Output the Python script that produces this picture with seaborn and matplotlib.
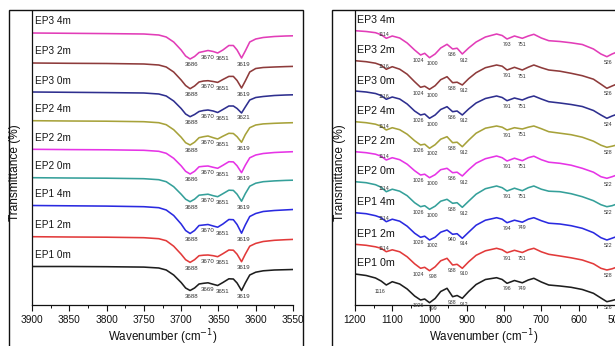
import numpy as np
import pandas as pd
import matplotlib
matplotlib.use("Agg")
import matplotlib.pyplot as plt
from matplotlib.patches import Rectangle
from matplotlib.ticker import MultipleLocator
import seaborn as sns

# ---------------- data ----------------
samples = ["EP3 4m", "EP3 2m", "EP3 0m", "EP2 4m", "EP2 2m",
           "EP2 0m", "EP1 4m", "EP1 2m", "EP1 0m"]
colors = ["#E23DB8", "#8E3B3B", "#2E2F8F", "#A7A23A", "#E634E6",
          "#35A09A", "#2A2AE0", "#E23A3A", "#1E1E1E"]

# OH-stretching region (left panel)
oh_wn = [3900, 3850, 3800, 3750, 3730, 3720, 3710, 3700, 3694, 3688, 3682, 3676,
         3670, 3664, 3657, 3651, 3644, 3636, 3630, 3625, 3619, 3614, 3608, 3600,
         3590, 3575, 3560, 3550]
oh_ep3_4m = [0, -0.3, -0.6, -1, -2, -4, -9, -17, -23, -26, -23.5, -19.5, -18.5, -17.5,
             -18.5, -20, -17, -12.5, -12.5, -17, -25, -18, -9, -6, -4.5, -3.5, -3, -2.8]
oh_ep3_2m = [0, -0.3, -0.5, -1, -2, -4, -9, -17, -22.5, -25.7, -23, -19, -18, -17.7,
             -18.5, -19.4, -16.5, -13.4, -13.4, -17.5, -25, -18, -9, -5.5, -4.5, -4, -3.6, -3.4]
oh_ep3_0m = [0, -0.3, -0.6, -1, -2, -4, -9, -16.5, -22, -24.7, -22.5, -19.5, -18.5, -18,
             -19, -20.5, -17.5, -14, -14, -16.5, -21, -15, -8, -5.5, -4.5, -3.5, -3, -2.8]
oh_ep2_4m = [0, -0.3, -0.5, -1, -2, -4, -9, -16.5, -22, -24.3, -21.5, -17, -16, -15.3,
             -17, -18.3, -15.5, -12.6, -12.8, -16, -21.6, -14, -7, -4.3, -3.2, -2.6, -2.2, -2]
oh_ep2_2m = [0, -0.3, -0.5, -1, -2, -4, -9, -16.5, -22, -24.7, -22, -17.5, -17, -16.7,
             -18, -19, -16, -12.4, -12.6, -16.5, -23.4, -16, -8.5, -5.7, -4.2, -3.2, -2.7, -2.4]
oh_ep2_0m = [0, -0.3, -0.5, -1, -2, -4, -9, -16.5, -21.5, -24, -21.5, -17.5, -17, -16.5,
             -18, -19, -16, -12.5, -12.7, -16.5, -23.5, -16, -8.5, -5.5, -4, -3.2, -2.7, -2.5]
oh_ep1_4m = [0, -0.3, -0.6, -1.2, -2.2, -4.5, -10, -18.5, -25, -28, -25, -20, -19.5, -19,
             -20.5, -21.7, -18.5, -14, -14.2, -19, -27.7, -19.5, -11, -8, -6, -5, -4.4, -4]
oh_ep1_2m = [0, -0.3, -0.5, -1, -2, -4, -9.5, -17.5, -23, -25.7, -23, -19, -18.5, -18.3,
             -19, -20, -17, -13.3, -13.5, -17.5, -25, -17.5, -9.5, -6.7, -4.8, -3.6, -3, -2.7]
oh_ep1_0m = [0, 0, -0.2, -0.6, -1.5, -3.5, -8.5, -16, -21.5, -24, -21.5, -17.5, -16.8, -16.3,
             -17.8, -19, -16, -12.3, -12.5, -16.5, -24, -16.5, -8.5, -5.7, -4.3, -3.5, -3.2, -3]
oh_curves = [oh_ep3_4m, oh_ep3_2m, oh_ep3_0m, oh_ep2_4m, oh_ep2_2m,
             oh_ep2_0m, oh_ep1_4m, oh_ep1_2m, oh_ep1_0m]
oh_offsets = [272, 242, 213, 184.3, 155.7, 127.3, 99.5, 68.3, 38.5]
oh_peaks = [["3686", "3670", "3651", "3619"],
            ["3688", "3670", "3651", "3619"],
            ["3688", "3670", "3651", "3621"],
            ["3688", "3670", "3651", "3619"],
            ["3686", "3670", "3651", "3619"],
            ["3688", "3670", "3651", "3619"],
            ["3688", "3670", "3651", "3619"],
            ["3688", "3670", "3651", "3619"],
            ["3688", "3669", "3651", "3619"]]

# Si-O / lattice region (right panel)
lt_wn = [1200, 1170, 1145, 1130, 1116, 1100, 1080, 1060, 1040, 1024, 1013, 1000, 985,
         970, 953, 938, 926, 912, 895, 875, 850, 820, 805, 792, 772, 751, 735, 720,
         700, 680, 650, 620, 590, 560, 540, 524, 510, 495, 480]
lt_ep3_4m = [0, -0.8, -2, -4, -7.6, -5.3, -7.3, -12.3, -19.3, -24.3, -22.6, -27, -23.3,
             -17.3, -13.6, -18.3, -17.5, -23.3, -17.3, -11.3, -6.3, -3.3, -4.8, -8.3, -5.3,
             -7.6, -5.3, -3.6, -7.3, -10, -10.8, -12.1, -13.8, -18.3, -23.3, -26, -23.3, -21, -19]
lt_ep3_2m = [0, -1, -2.5, -4.5, -8.6, -6, -8.5, -13.5, -21, -26.6, -25.5, -28.6, -25,
             -19, -16, -22, -21.5, -24.3, -18, -12, -7, -4.3, -5.5, -9.3, -6.6, -9.3, -6.5,
             -4.3, -7, -9.3, -10.5, -12.6, -15, -18.5, -23.5, -27.6, -25.3, -23, -21]
lt_ep3_0m = [0, -1, -2.5, -4.5, -8.3, -6, -8, -13, -20, -24, -23, -27.3, -24, -18.5,
             -15.7, -20.7, -20, -24, -18, -12, -7.5, -5, -6.5, -9.7, -7, -9, -6.5, -5, -8,
             -10.7, -12, -13.5, -15.5, -19.5, -24, -27.3, -25, -23, -21]
lt_ep2_4m = [0, -1, -2.5, -4.5, -8.3, -6, -8, -12.5, -19, -23.3, -22.5, -26.6, -23,
             -17.5, -15, -21, -20.5, -25, -18.5, -11.5, -6.5, -4.3, -5.5, -8.3, -6, -7.3,
             -5.5, -4.3, -7, -10, -11.5, -13, -15.5, -19.5, -23.5, -25.6, -24.5, -23, -21]
lt_ep2_2m = [0, -1, -2.5, -4.5, -8.3, -6, -8, -12.5, -19, -23.3, -22.5, -26, -23, -18,
             -16.6, -21, -20.5, -24.3, -18, -11.5, -7, -4.3, -6, -9.3, -6.5, -9, -6, -4.5,
             -8, -10.5, -11.6, -13.5, -16.6, -20.5, -25, -26.6, -25, -23, -21]
lt_ep2_0m = [0, -1, -3, -5.5, -10, -7.5, -9.5, -14, -21, -25, -24, -27.6, -24.5, -19.5,
             -17.6, -21.6, -21, -25.6, -19.5, -12.5, -7, -4.3, -6, -9.3, -6.5, -9, -6,
             -4.3, -7.5, -9.5, -10, -12, -15, -19, -23, -25, -24, -22, -20]
lt_ep1_4m = [0, -1, -3, -5, -9, -6.5, -8.5, -13.5, -20.5, -24.6, -23.5, -27.3, -24.5,
             -19.5, -17.3, -21.6, -21, -25.6, -19.5, -12.5, -7.5, -5, -6.5, -10, -7.5,
             -9.5, -6.5, -5, -8, -10.5, -11.3, -13, -15.6, -20, -25, -27.3, -25.5, -23.5, -21.5]
lt_ep1_2m = [0, -1, -2.5, -4, -7.4, -5.5, -7.5, -12.5, -19.5, -24, -23, -26.4, -22.5,
             -16.5, -14, -20.7, -20, -24, -17.5, -11, -6.5, -4, -5.5, -8.4, -6, -8.2, -5.5,
             -4, -7.5, -10, -11.7, -13.5, -15.7, -19.5, -24, -25.7, -24.5, -22.5, -20.5]
lt_ep1_0m = [0, -1.5, -4, -7, -11, -7.7, -10, -15, -22, -26, -25, -28.7, -24.5, -17.5,
             -14.3, -22.7, -21.5, -24.3, -17.5, -10.5, -5.5, -3.7, -5.5, -9.3, -6.5, -8.8,
             -6, -4.3, -8, -11, -12, -13.3, -15.5, -19.3, -24, -27.7, -26.5, -25, -24]
lt_curves = [lt_ep3_4m, lt_ep3_2m, lt_ep3_0m, lt_ep2_4m, lt_ep2_2m,
             lt_ep2_0m, lt_ep1_4m, lt_ep1_2m, lt_ep1_0m]
lt_offsets = [274.3, 244.3, 214, 183.3, 153.3, 123.3, 92.3, 60.7, 31]
lt_peaks = [["1114", "1024", "1000", "936", "912", "793", "751", "526"],
            ["1116", "1024", "1000", "938", "912", "791", "751", "526"],
            ["1116", "1026", "1000", "936", "912", "791", "751", "524"],
            ["1114", "1026", "1002", "938", "912", "791", "751", "528"],
            ["1114", "1026", "1000", "936", "912", "791", "751", "522"],
            ["1114", "1026", "1000", "938", "912", "791", "751", "522"],
            ["1114", "1026", "1002", "940", "914", "794", "749", "522"],
            ["1114", "1024", "998", "938", "910", "791", "751", "528"],
            ["1116", "1026", "999", "938", "912", "796", "749", "526"]]

# ---------------- layout constants ----------------
W, H = 615, 346
SANS = ["Liberation Sans", "DejaVu Sans"]
oh_label_x = [3686, 3665, 3644, 3616]
lt_label_x = [1121, 1031, 991, 940, 907, 792, 751, 522]

sns.set_theme(style="white")
plt.rcParams["font.family"] = SANS

fig = plt.figure(figsize=(W / 100, H / 100), dpi=100)
axL = fig.add_axes([32 / W, 41 / H, 261 / W, 294 / H])
axR = fig.add_axes([355 / W, 41 / H, 272 / W, 294 / H])

# outer panel boxes
for x0, x1 in [(9, 303), (332, 700)]:
    fig.add_artist(Rectangle((x0 / W, -0.05), (x1 - x0) / W, (H - 10) / H + 0.05,
                             transform=fig.transFigure, fill=False,
                             edgecolor="#111111", linewidth=1.0, clip_on=False))


def draw_panel(ax, wn, curves, offsets, peaks, label_x, lbl_size, peak_size,
               lbl_x, lbl_dy):
    rows = []
    for name, vals, off in zip(samples, curves, offsets):
        for w, v in zip(wn, vals):
            rows.append((name, w, v + off))
    df = pd.DataFrame(rows, columns=["sample", "wn", "T"])
    sns.lineplot(data=df, x="wn", y="T", hue="sample", hue_order=samples,
                 palette=dict(zip(samples, colors)), estimator=None, sort=False,
                 legend=False, linewidth=1.15, ax=ax)
    wn_a = np.array(wn)[::-1]
    for name, vals, off, pk in zip(samples, curves, offsets, peaks):
        v_a = np.array(vals)[::-1]
        ax.text(lbl_x, off + lbl_dy, name, ha="left", va="center",
                fontsize=lbl_size, color="#151515")
        for t, xl in zip(pk, label_x):
            yv = np.interp(float(t), wn_a, v_a) + off
            if t in ("1114", "1116"):
                if name == "EP1 0m":
                    ax.text(xl + 12, yv - 6.5, t, ha="center", va="center",
                            fontsize=peak_size, color="#333333")
                else:
                    ax.text(xl, yv + 3.2, t, ha="center", va="center",
                            fontsize=peak_size, color="#333333")
            else:
                ax.text(xl, yv - 6.0, t, ha="center", va="center",
                        fontsize=peak_size, color="#333333")


draw_panel(axL, oh_wn, oh_curves, oh_offsets, oh_peaks, oh_label_x, 7.2, 4.4,
           3896, 11.5)
draw_panel(axR, lt_wn, lt_curves, lt_offsets, lt_peaks, lt_label_x, 7.7, 3.7,
           1195, 10.5)

axL.set_xlim(3900, 3550)
axR.set_xlim(1200, 470)
for ax in (axL, axR):
    ax.set_ylim(0, 294)
    ax.set_yticks([])
    for s in ("top", "right"):
        ax.spines[s].set_visible(False)
    for s in ("left", "bottom"):
        ax.spines[s].set_color("#111111")
        ax.spines[s].set_linewidth(0.9)
    ax.tick_params(axis="x", which="major", direction="out", length=4, width=0.8,
                   color="#111111", labelsize=7.3, pad=3, labelcolor="#111111",
                   bottom=True)
    ax.tick_params(axis="x", which="minor", direction="out", length=2.5, width=0.7,
                   color="#111111", bottom=True)
    ax.set_xlabel("Wavenumber (cm$^{-1}$)", fontsize=8.4, color="#111111")
    ax.set_ylabel("Transmittance (%)", fontsize=8.6, color="#111111")
    ax.patch.set_alpha(0)

axL.xaxis.set_major_locator(MultipleLocator(50))
axL.xaxis.set_minor_locator(MultipleLocator(25))
axR.xaxis.set_major_locator(MultipleLocator(100))
axR.xaxis.set_minor_locator(MultipleLocator(50))
axR.set_xticks(range(500, 1201, 100))
axL.yaxis.set_label_coords(-11 / 261, 0.45)
axR.yaxis.set_label_coords(-9 / 272, 0.45)
axL.xaxis.set_label_coords(0.5, -22 / 294)
axR.xaxis.set_label_coords((484 - 355) / 272, -22 / 294)

fig.savefig("out.png", dpi=100)
